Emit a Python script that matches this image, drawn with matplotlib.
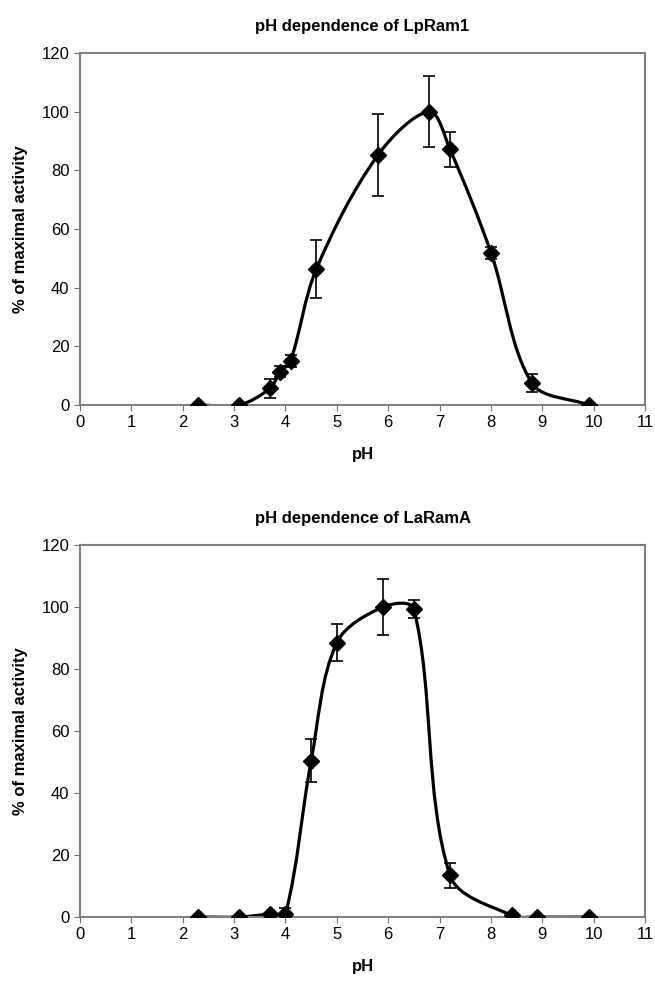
import numpy as np
import matplotlib
matplotlib.use("Agg")
import matplotlib.pyplot as plt
from matplotlib.path import Path
from matplotlib.patches import PathPatch

plt.rcParams['font.family'] = ['Liberation Sans', 'DejaVu Sans']

# LpRam1
ph_lp = [2.3, 3.1, 3.7, 3.9, 4.1, 4.6, 5.8, 6.8, 7.2, 8.0, 8.8, 9.9]
act_lp = [0, 0, 5.7, 11.4, 15.1, 46.3, 85.2, 100, 87.2, 51.9, 7.4, 0]
err_lp = [0, 0, 3.2, 2, 2, 10, 14, 12, 6, 2, 3, 0]

# LaRamA
ph_la = [2.3, 3.1, 3.7, 4.0, 4.5, 5.0, 5.9, 6.5, 7.2, 8.4, 8.9, 9.9]
act_la = [0, 0, 0.9, 1.0, 50.4, 88.5, 100, 99.3, 13.5, 0.5, 0, 0]
err_la = [0, 0, 0, 2, 7, 6, 9, 3, 4, 0, 0, 0]

titles = ["pH dependence of LpRam1", "pH dependence of LaRamA"]
xticks = list(range(0, 12))
yticks = list(range(0, 121, 20))


def smooth_path(ax, x, y):
    """ Smoothed line through every point, tangents weighted by segment
    lengths measured on screen (keeps overshoot small). """
    pts = np.column_stack([x, y]).astype(float)
    scr = ax.transData.transform(pts)
    n = len(pts)
    seg = np.hypot(*(scr[1:] - scr[:-1]).T)
    verts = [pts[0]]
    codes = [Path.MOVETO]
    for i in range(n - 1):
        p1 = pts[i]
        p2 = pts[i + 1]
        if i > 0:
            w = seg[i] / (seg[i - 1] + seg[i]) / 3.0
            c1 = p1 + (p2 - pts[i - 1]) * w
        else:
            c1 = p1 + (p2 - p1) / 3.0
        if i + 2 < n:
            w = seg[i] / (seg[i] + seg[i + 1]) / 3.0
            c2 = p2 - (pts[i + 2] - p1) * w
        else:
            c2 = p2 - (p2 - p1) / 3.0
        verts += [c1, c2, p2]
        codes += [Path.CURVE4] * 3
    return Path(verts, codes)


def draw(ax, x, y, e, title):
    ax.set_xlim(0, 11)
    ax.set_ylim(0, 120)
    ax.add_patch(PathPatch(smooth_path(ax, x, y), fill=False, lw=2.3,
                           edgecolor='black', zorder=2))
    ax.errorbar(x, y, yerr=e, fmt='none', ecolor='black', elinewidth=1.2,
                capsize=4, capthick=1.2, zorder=3)
    ax.plot(x, y, 'D', color='black', markersize=8, zorder=4)
    ax.set_xticks(xticks)
    ax.set_yticks(yticks)
    ax.tick_params(labelsize=12, length=4, color='#707070', direction='out')
    for s in ax.spines.values():
        s.set_color('#808080')
        s.set_linewidth(1.5)
    ax.set_title(title, fontsize=12, fontweight='bold', pad=16)
    ax.set_xlabel("pH", fontsize=12, fontweight='bold', labelpad=12)
    ax.set_ylabel("% of maximal activity", fontsize=12, fontweight='bold', labelpad=10)


fig = plt.figure(figsize=(6.55, 9.82), dpi=100)
ax1 = fig.add_axes([0.122, 0.5876, 0.863, 0.3585])
ax2 = fig.add_axes([0.122, 0.0662, 0.863, 0.3788])
draw(ax1, ph_lp, act_lp, err_lp, titles[0])
draw(ax2, ph_la, act_la, err_la, titles[1])

fig.savefig("out.png", dpi=100)
